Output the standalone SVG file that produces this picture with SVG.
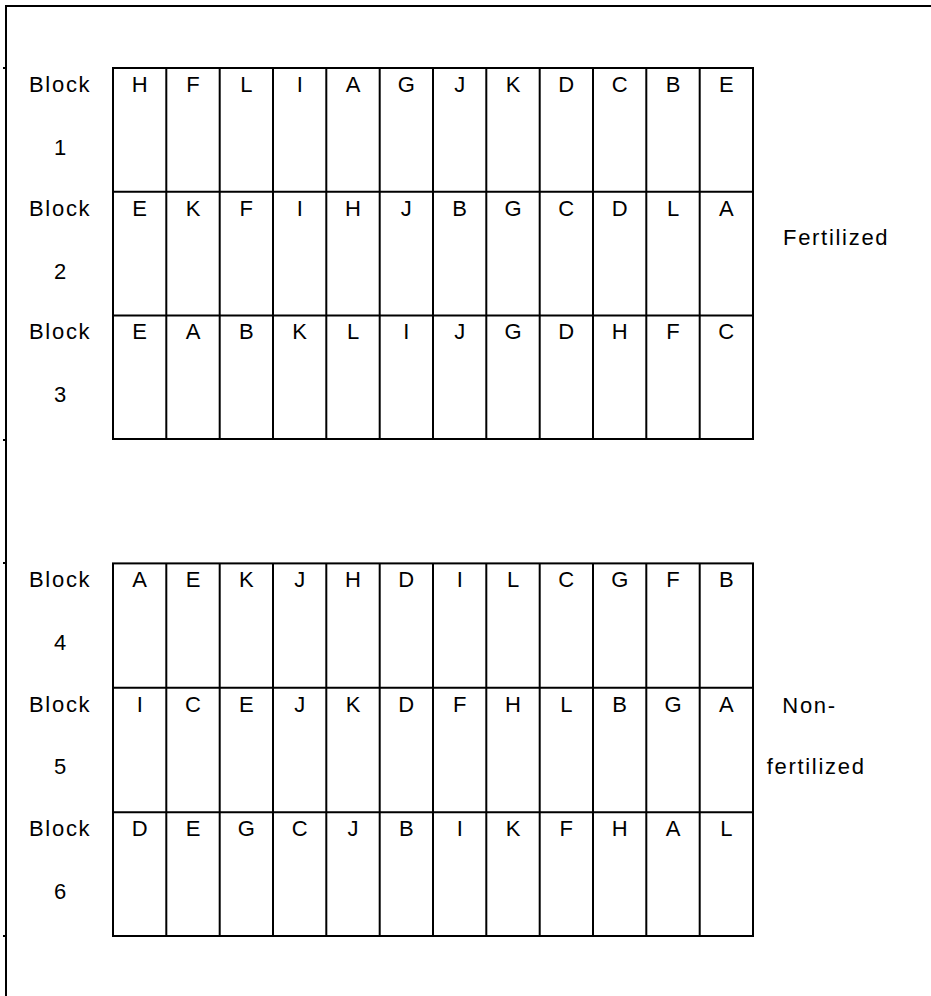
<svg xmlns="http://www.w3.org/2000/svg" width="931" height="996" viewBox="0 0 931 996">
<style>
text{font-family:"Liberation Sans",Arial,sans-serif;font-size:22px;fill:#000}
.c{text-anchor:middle}
.w{letter-spacing:1.7px}
.ln{stroke:#000;stroke-width:2;fill:none}
</style>
<rect width="931" height="996" fill="#fff"/>
<g id="frame">
<path class="ln" d="M5 6H931M6 5V996"/>
<path class="ln" d="M3 68H7M3 440H7M3 563H7M3 936H7" stroke-width="1"/>
</g>
<g id="grid-fertilized">
<rect class="ln" x="113" y="68" width="640" height="371"/>
<path class="ln" d="M113 191.7H753M113 315.4H753M166.3 68V439M219.7 68V439M273 68V439M326.3 68V439M379.7 68V439M433 68V439M486.3 68V439M539.7 68V439M593 68V439M646.3 68V439M699.7 68V439"/>
</g>
<g id="grid-nonfertilized">
<rect class="ln" x="113" y="563.4" width="640" height="372.6"/>
<path class="ln" d="M113 687.7H753M113 812.3H753M166.3 563.4V936M219.7 563.4V936M273 563.4V936M326.3 563.4V936M379.7 563.4V936M433 563.4V936M486.3 563.4V936M539.7 563.4V936M593 563.4V936M646.3 563.4V936M699.7 563.4V936"/>
</g>
<g id="block1">
<text class="w" x="29" y="92">Block</text><text class="c" x="60" y="155">1</text>
<g class="c"><text x="139.7" y="92">H</text><text x="193" y="92">F</text><text x="246.3" y="92">L</text><text x="299.7" y="92">I</text><text x="353" y="92">A</text><text x="406.3" y="92">G</text><text x="459.7" y="92">J</text><text x="513" y="92">K</text><text x="566.3" y="92">D</text><text x="619.7" y="92">C</text><text x="673" y="92">B</text><text x="726.3" y="92">E</text></g>
</g>
<g id="block2">
<text class="w" x="29" y="215.7">Block</text><text class="c" x="60" y="278.7">2</text>
<g class="c"><text x="139.7" y="215.7">E</text><text x="193" y="215.7">K</text><text x="246.3" y="215.7">F</text><text x="299.7" y="215.7">I</text><text x="353" y="215.7">H</text><text x="406.3" y="215.7">J</text><text x="459.7" y="215.7">B</text><text x="513" y="215.7">G</text><text x="566.3" y="215.7">C</text><text x="619.7" y="215.7">D</text><text x="673" y="215.7">L</text><text x="726.3" y="215.7">A</text></g>
</g>
<g id="block3">
<text class="w" x="29" y="339.4">Block</text><text class="c" x="60" y="402.4">3</text>
<g class="c"><text x="139.7" y="339.4">E</text><text x="193" y="339.4">A</text><text x="246.3" y="339.4">B</text><text x="299.7" y="339.4">K</text><text x="353" y="339.4">L</text><text x="406.3" y="339.4">I</text><text x="459.7" y="339.4">J</text><text x="513" y="339.4">G</text><text x="566.3" y="339.4">D</text><text x="619.7" y="339.4">H</text><text x="673" y="339.4">F</text><text x="726.3" y="339.4">C</text></g>
</g>
<g id="label-fertilized"><text class="w" x="783" y="245">Fertilized</text></g>
<g id="block4">
<text class="w" x="29" y="587.4">Block</text><text class="c" x="60" y="650.4">4</text>
<g class="c"><text x="139.7" y="587.4">A</text><text x="193" y="587.4">E</text><text x="246.3" y="587.4">K</text><text x="299.7" y="587.4">J</text><text x="353" y="587.4">H</text><text x="406.3" y="587.4">D</text><text x="459.7" y="587.4">I</text><text x="513" y="587.4">L</text><text x="566.3" y="587.4">C</text><text x="619.7" y="587.4">G</text><text x="673" y="587.4">F</text><text x="726.3" y="587.4">B</text></g>
</g>
<g id="block5">
<text class="w" x="29" y="711.7">Block</text><text class="c" x="60" y="774.3">5</text>
<g class="c"><text x="139.7" y="711.7">I</text><text x="193" y="711.7">C</text><text x="246.3" y="711.7">E</text><text x="299.7" y="711.7">J</text><text x="353" y="711.7">K</text><text x="406.3" y="711.7">D</text><text x="459.7" y="711.7">F</text><text x="513" y="711.7">H</text><text x="566.3" y="711.7">L</text><text x="619.7" y="711.7">B</text><text x="673" y="711.7">G</text><text x="726.3" y="711.7">A</text></g>
</g>
<g id="block6">
<text class="w" x="29" y="836.3">Block</text><text class="c" x="60" y="899">6</text>
<g class="c"><text x="139.7" y="836.3">D</text><text x="193" y="836.3">E</text><text x="246.3" y="836.3">G</text><text x="299.7" y="836.3">C</text><text x="353" y="836.3">J</text><text x="406.3" y="836.3">B</text><text x="459.7" y="836.3">I</text><text x="513" y="836.3">K</text><text x="566.3" y="836.3">F</text><text x="619.7" y="836.3">H</text><text x="673" y="836.3">A</text><text x="726.3" y="836.3">L</text></g>
</g>
<g id="label-nonfertilized"><text class="w" x="782.3" y="712.7">Non-</text><text class="w" x="766.7" y="774.3">fertilized</text></g>
</svg>
